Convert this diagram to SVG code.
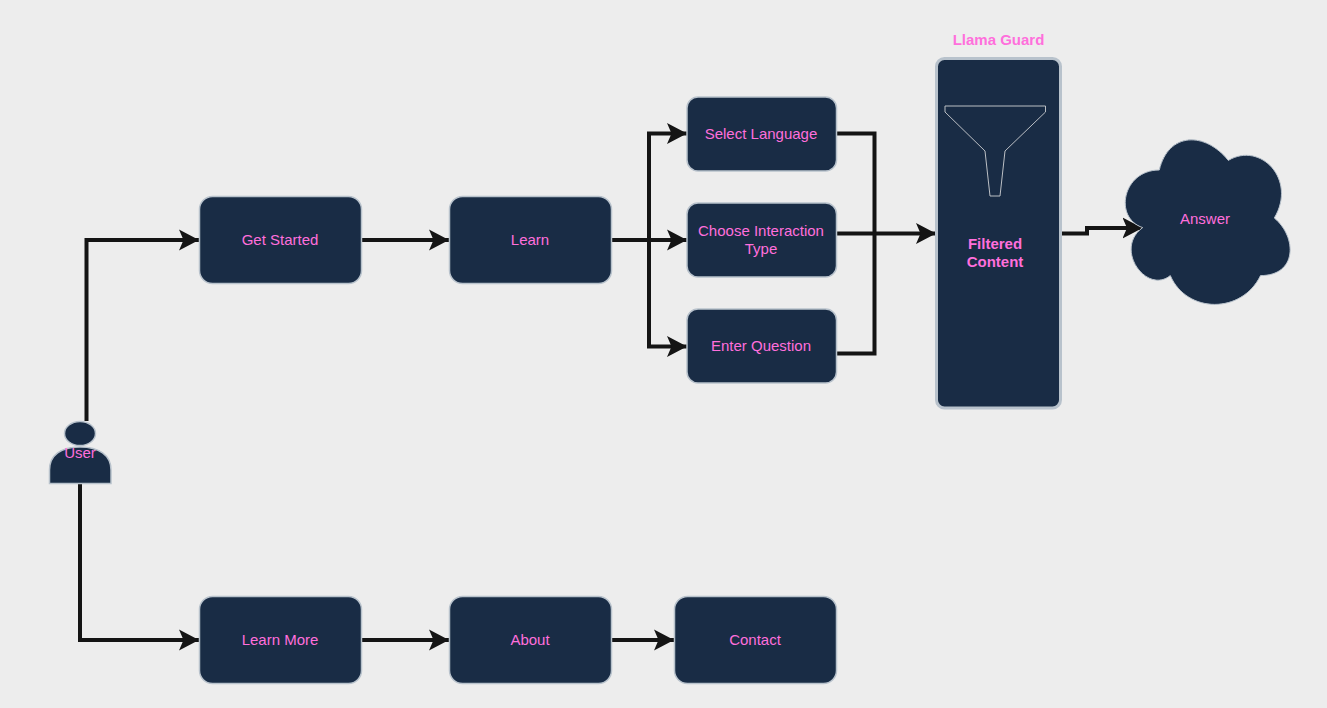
<svg xmlns="http://www.w3.org/2000/svg" width="1327" height="708" viewBox="0 0 1327 708">
<style>
.n{fill:#192C45;stroke:#B8C2CC;stroke-width:1.500}
.t{font-family:"Liberation Sans",Arial,sans-serif;font-size:15px;fill:#FF6FDC;text-anchor:middle}
.b{font-weight:bold}
.c{fill:none;stroke:#141414;stroke-width:4}
.f{fill:none;stroke:#BBBFC4;stroke-width:1}
</style>
<defs>
<marker id="a" markerUnits="userSpaceOnUse" markerWidth="22" markerHeight="24" refX="20" refY="12" orient="auto" viewBox="0 0 22 24">
<path d="M0 1.500L20 12L0 22.500L4.500 12Z" fill="#141414"/>
</marker>
</defs>
<rect width="1327" height="708" fill="#EDEDED"/>
<g id="connectors">
<path class="c" d="M86.500 421V240H199" marker-end="url(#a)"/>
<path class="c" d="M80 484V640H199" marker-end="url(#a)"/>
<path class="c" d="M362 240H449" marker-end="url(#a)"/>
<path class="c" d="M612 240H687" marker-end="url(#a)"/>
<path class="c" d="M612 240H649V133.500H687" marker-end="url(#a)"/>
<path class="c" d="M649 240V346.500H687" marker-end="url(#a)"/>
<path class="c" d="M837 133.500H874.500V353.500H837"/>
<path class="c" d="M837 233.500H936" marker-end="url(#a)"/>
<path class="c" d="M1062 233.500H1087V228H1142.500" marker-end="url(#a)"/>
<path class="c" d="M362 640H449" marker-end="url(#a)"/>
<path class="c" d="M612 640H674" marker-end="url(#a)"/>
</g>
<g id="user">
<ellipse class="n" cx="80" cy="433.500" rx="15.500" ry="12"/>
<path class="n" d="M49.500 483.500V470C49.500 455 61 447 80 447S111 455 111 470V483.500Z"/>
<text class="t" x="80" y="458">User</text>
</g>
<g id="get-started">
<rect class="n" x="199.500" y="196.500" width="162" height="87" rx="13"/>
<text class="t" x="280" y="245">Get Started</text>
</g>
<g id="learn">
<rect class="n" x="449.500" y="196.500" width="162" height="87" rx="13"/>
<text class="t" x="530" y="245">Learn</text>
</g>
<g id="select-language">
<rect class="n" x="687" y="97" width="149.500" height="74" rx="11"/>
<text class="t" x="761" y="139">Select Language</text>
</g>
<g id="choose-interaction">
<rect class="n" x="687" y="203" width="149.500" height="74" rx="11"/>
<text class="t" x="761" y="236">Choose Interaction</text>
<text class="t" x="761" y="254">Type</text>
</g>
<g id="enter-question">
<rect class="n" x="687" y="309" width="149.500" height="74" rx="11"/>
<text class="t" x="761" y="351">Enter Question</text>
</g>
<g id="llama-guard">
<text class="t b" x="998.500" y="45">Llama Guard</text>
<rect class="n" style="stroke-width:3" x="936.500" y="58.500" width="124" height="349.500" rx="8"/>
<path class="f" d="M945 106H1045.500V112L1005 151L1000 196H990L985 151L945 112Z"/>
<text class="t b" x="995" y="249">Filtered</text>
<text class="t b" x="995" y="267">Content</text>
</g>
<g id="answer">
<path class="n" style="stroke-width:1" d="M1159.300 170C1122.500 170 1113.300 218 1142.700 227.600C1113.300 248.700 1146.400 294.800 1170.300 275.600C1186.900 314 1242.100 314 1260.500 275.600C1297.300 275.600 1297.300 237.200 1274.300 218C1297.300 179.600 1260.500 141.200 1228.300 160.400C1205.300 131.600 1168.500 131.600 1159.300 170Z"/>
<text class="t" x="1205" y="224">Answer</text>
</g>
<g id="learn-more">
<rect class="n" x="199.500" y="596.500" width="162" height="87" rx="13"/>
<text class="t" x="280" y="645">Learn More</text>
</g>
<g id="about">
<rect class="n" x="449.500" y="596.500" width="162" height="87" rx="13"/>
<text class="t" x="530" y="645">About</text>
</g>
<g id="contact">
<rect class="n" x="674.500" y="596.500" width="162" height="87" rx="13"/>
<text class="t" x="755" y="645">Contact</text>
</g>
</svg>
